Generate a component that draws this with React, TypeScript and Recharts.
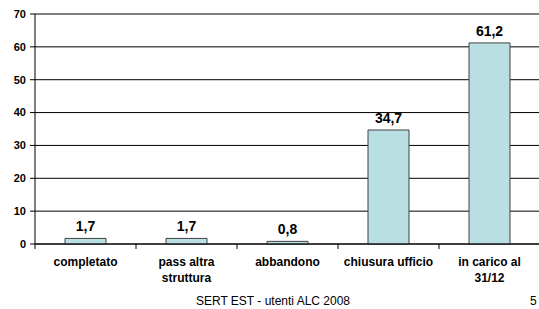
import { BarChart, Bar, XAxis, YAxis, CartesianGrid, LabelList } from "recharts"

const categories = ["completato", "pass altra\nstruttura", "abbandono", "chiusura ufficio", "in carico al\n31/12"]
const values = [1.7, 1.7, 0.8, 34.7, 61.2]
const yTicks = [0, 10, 20, 30, 40, 50, 60, 70]

const data = categories.map((name, i) => ({ name, value: values[i] }))

const font = "'Liberation Sans', Arial, sans-serif"

// label plus tick marks on the band edges, like Excel category axes
function CategoryTick(props: any) {
  const { x, y, payload, index, visibleTicksCount } = props
  const half = payload.offset || 0
  const lines = String(payload.value).split("\n")
  return (
    <g>
      <line x1={x - half} x2={x - half} y1={y} y2={y + 5} stroke="#000" />
      {index === visibleTicksCount - 1 && (
        <line x1={x + half} x2={x + half} y1={y} y2={y + 5} stroke="#000" />
      )}
      <text x={x} y={y + 22} textAnchor="middle" fontFamily={font} fontSize={12} fontWeight="bold" fill="#000">
        {lines.map((line, i) => (
          <tspan key={i} x={x} dy={i === 0 ? 0 : 15.5}>
            {line}
          </tspan>
        ))}
      </text>
    </g>
  )
}

export default function App() {
  return (
    <div style={{ position: "absolute", left: 0, top: 0, width: 539, height: 309, overflow: "hidden", background: "#fff" }}>
      <BarChart
        width={541}
        height={309}
        data={data}
        margin={{ top: 14, right: 1, left: 5, bottom: 0 }}
      >
        <CartesianGrid stroke="#000" vertical={false} />
        <XAxis
          dataKey="name"
          height={65}
          tickSize={0}
          tickMargin={0}
          axisLine={{ stroke: "#000" }}
          tickLine={false}
          interval={0}
          tick={<CategoryTick />}
        />
        <YAxis
          width={30}
          domain={[0, 70]}
          ticks={yTicks}
          interval={0}
          tickSize={5}
          tickMargin={4}
          axisLine={{ stroke: "#000" }}
          tickLine={{ stroke: "#000" }}
          tick={{ fill: "#000", fontSize: 11, fontWeight: "bold", fontFamily: font }}
        />
        <Bar dataKey="value" fill="#B9DFE2" stroke="#404040" strokeWidth={1} barSize={41} isAnimationActive={false}>
          <LabelList
            dataKey="value"
            position="top"
            offset={7}
            formatter={(v: any) => Number(v).toFixed(1).replace(".", ",")}
            style={{ fill: "#000", fontSize: 14, fontWeight: "bold", fontFamily: font }}
          />
        </Bar>
      </BarChart>
      <div style={{ position: "absolute", left: 0, width: 546, top: 294, textAlign: "center", fontFamily: font, fontSize: 12, color: "#000" }}>
        SERT EST - utenti ALC 2008
      </div>
      <div style={{ position: "absolute", left: 530, top: 294, fontFamily: font, fontSize: 12, color: "#000" }}>5</div>
    </div>
  )
}
